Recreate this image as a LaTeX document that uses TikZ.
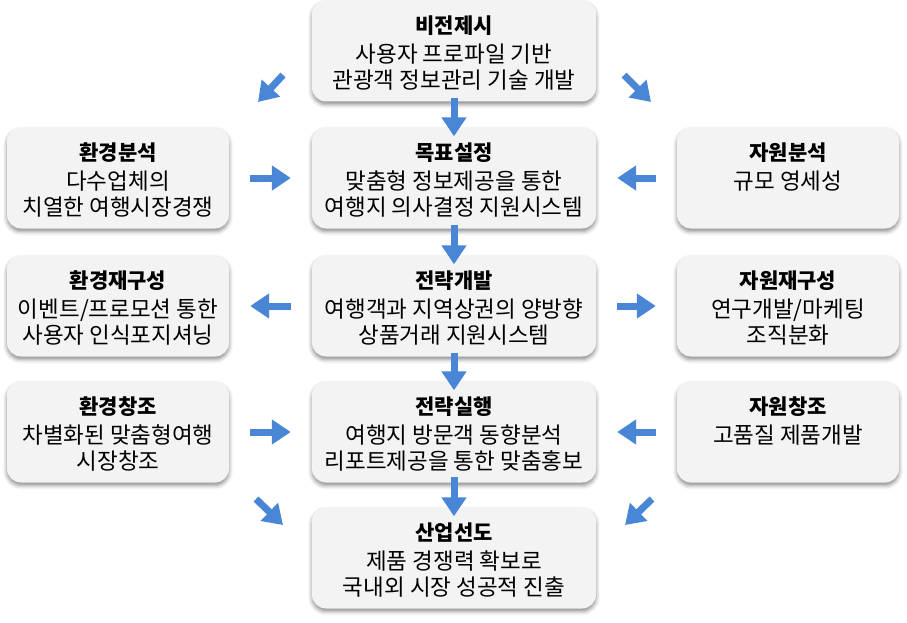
\documentclass[tikz,border=0pt]{standalone}
\usepackage{fontspec}
\setmainfont{Noto Sans CJK KR}
\usetikzlibrary{arrows.meta,positioning,shadows.blur}
\definecolor{arr_blue}{RGB}{74,134,214}
\definecolor{box_gray}{RGB}{243,243,243}
\tikzstyle{box}=[rectangle,rounded corners=14pt,fill=box_gray,
  blur shadow={shadow xshift=0pt,shadow yshift=-3pt,shadow blur radius=4pt,shadow opacity=45},
  minimum height=101pt,inner sep=0pt]
\tikzstyle{mbox}=[box,minimum width=284pt]
\tikzstyle{sbox}=[box,minimum width=222pt]
\tikzstyle{txt}=[align=center,inner sep=0pt,font=\fontsize{22.5}{26}\selectfont]
\tikzstyle{arr}=[draw=arr_blue,line width=7pt,-{Triangle[width=24pt,length=19pt]}]
\newcommand{\ttl}[1]{{\fontsize{21}{26}\selectfont\bfseries #1}}

\begin{document}
\begin{tikzpicture}[x=1pt,y=-1pt]
    \useasboundingbox (0,0) rectangle (907,623);
            % boxes
            \node [style=mbox] (c1) at (454, 51) {};
            \node [style=mbox] (c2) at (454, 178) {};
            \node [style=mbox] (c3) at (454, 306) {};
            \node [style=mbox] (c4) at (454, 432) {};
            \node [style=mbox] (c5) at (454, 558) {};
            \node [style=sbox] (l2) at (118, 178) {};
            \node [style=sbox] (l3) at (118, 306) {};
            \node [style=sbox] (l4) at (118, 432) {};
            \node [style=sbox] (r2) at (788, 178) {};
            \node [style=sbox] (r3) at (788, 306) {};
            \node [style=sbox] (r4) at (788, 432) {};
            % texts
            \node [style=txt, below=15pt of c1.north] (t1) {\ttl{비전제시}\\[3pt]사용자 프로파일 기반\\관광객 정보관리 기술 개발};
            \node [style=txt, below=15pt of c2.north] (t2) {\ttl{목표설정}\\[3pt]맞춤형 정보제공을 통한\\여행지 의사결정 지원시스템};
            \node [style=txt, below=15pt of c3.north] (t3) {\ttl{전략개발}\\[3pt]여행객과 지역상권의 양방향\\상품거래 지원시스템};
            \node [style=txt, below=15pt of c4.north] (t4) {\ttl{전략실행}\\[3pt]여행지 방문객 동향분석\\리포트제공을 통한 맞춤홍보};
            \node [style=txt, below=15pt of c5.north] (t5) {\ttl{산업선도}\\[3pt]제품 경쟁력 확보로\\국내외 시장 성공적 진출};
            \node [style=txt, below=15pt of l2.north] (tl2) {\ttl{환경분석}\\[3pt]다수업체의\\치열한 여행시장경쟁};
            \node [style=txt, below=15pt of l3.north] (tl3) {\ttl{환경재구성}\\[3pt]이벤트/프로모션 통한\\사용자 인식포지셔닝};
            \node [style=txt, below=15pt of l4.north] (tl4) {\ttl{환경창조}\\[3pt]차별화된 맞춤형여행\\시장창조};
            \node [style=txt, below=15pt of r2.north] (tr2) {\ttl{자원분석}\\[3pt]규모 영세성};
            \node [style=txt, below=15pt of r3.north] (tr3) {\ttl{자원재구성}\\[3pt]연구개발/마케팅\\조직분화};
            \node [style=txt, below=15pt of r4.north] (tr4) {\ttl{자원창조}\\[3pt]고품질 제품개발};
            % diagonal arrow ends
            \coordinate (d1) at (283, 75);
            \coordinate (d2) at (258, 102);
            \coordinate (d3) at (624, 75);
            \coordinate (d4) at (651, 102);
            \coordinate (d5) at (256, 499);
            \coordinate (d6) at (283, 525);
            \coordinate (d7) at (652, 499);
            \coordinate (d8) at (625, 525);
            % arrows
            \draw [style=arr, shorten <=-4pt, shorten >=-9pt] (c1.south) to (c2.north);
            \draw [style=arr, shorten <=-4pt, shorten >=-9pt] (c2.south) to (c3.north);
            \draw [style=arr, shorten <=-4pt, shorten >=-9pt] (c3.south) to (c4.north);
            \draw [style=arr, shorten <=-6pt, shorten >=-9pt] (c4.south) to (c5.north);
            \draw [style=arr, shorten <=21pt, shorten >=21pt] (l2.east) to (c2.west);
            \draw [style=arr, shorten <=21pt, shorten >=21pt] (c3.west) to (l3.east);
            \draw [style=arr, shorten <=21pt, shorten >=21pt] (l4.east) to (c4.west);
            \draw [style=arr, shorten <=21pt, shorten >=21pt] (r2.west) to (c2.east);
            \draw [style=arr, shorten <=21pt, shorten >=21pt] (c3.east) to (r3.west);
            \draw [style=arr, shorten <=21pt, shorten >=21pt] (r4.west) to (c4.east);
            \draw [style=arr] (d1) to (d2);
            \draw [style=arr] (d3) to (d4);
            \draw [style=arr] (d5) to (d6);
            \draw [style=arr] (d7) to (d8);
    \end{tikzpicture}
\end{document}
